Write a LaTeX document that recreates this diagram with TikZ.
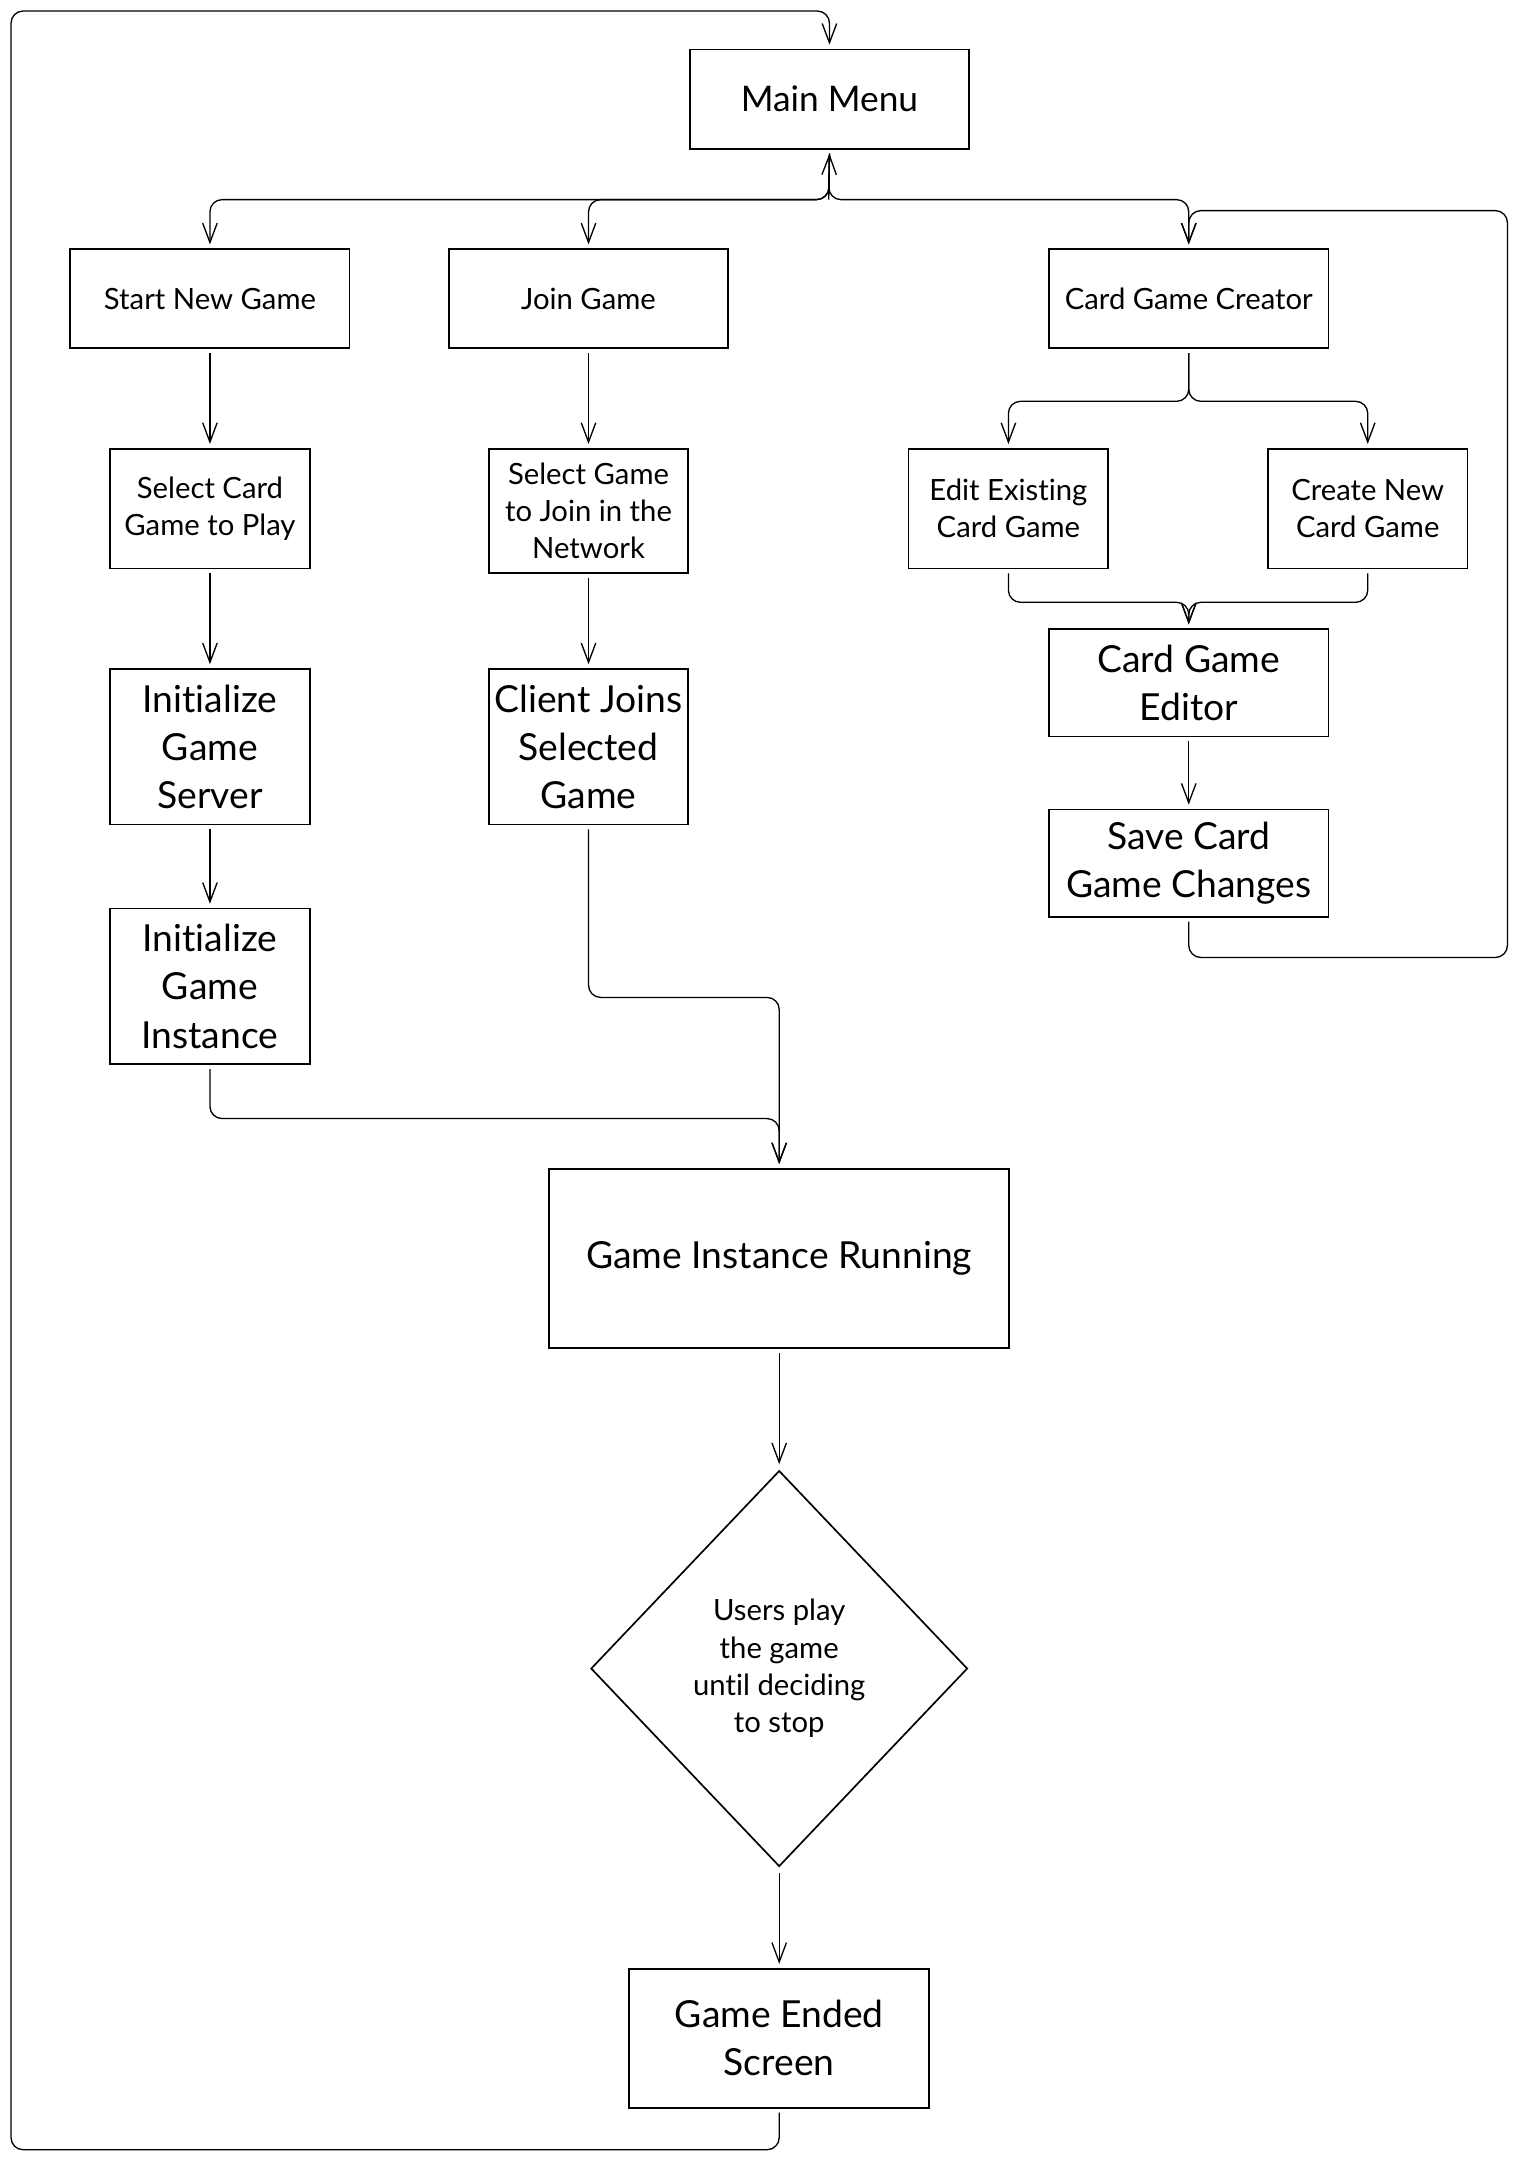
\documentclass[tikz,border=0pt]{standalone}
\usepackage{fontspec}
\setmainfont{Lato}[Ligatures=NoCommon]
\usetikzlibrary{arrows.meta,shapes.geometric}

\begin{document}
\begin{tikzpicture}[x=0.02cm, y=-0.02cm,
		box/.style={draw, line width=0.7pt, align=center, inner sep=2pt, outer sep=2pt},
		small/.style={font=\fontsize{12.1}{15.4}\selectfont},
		big/.style={font=\fontsize{15.4}{19.9}\selectfont},
		flow/.style={-{Straight Barb[length=8pt,width=6pt]}, line width=0.55pt, rounded corners=5pt}]
	\useasboundingbox (0,0) rectangle (1104,1569);
	% menu and the three choices
	\node[box, font=\fontsize{14.6}{18}\selectfont, minimum width=4.06cm, minimum height=1.44cm] (menu) at (602.5,72) {Main Menu};
	\node[box, small, minimum width=4.06cm, minimum height=1.44cm] (start) at (152.5,217) {Start New Game};
	\node[box, small, minimum width=4.06cm, minimum height=1.44cm] (join) at (427.5,217) {Join Game};
	\node[box, small, minimum width=4.06cm, minimum height=1.44cm] (creator) at (863.5,217) {Card Game Creator};
	% left column
	\node[box, small, minimum width=2.9cm, minimum height=1.74cm] (selcard) at (152.5,369.5) {Select Card\\Game to Play};
	\node[box, big, minimum width=2.9cm, minimum height=2.26cm] (server) at (152.5,542.5) {Initialize\\Game\\Server};
	\node[box, big, minimum width=2.9cm, minimum height=2.26cm] (instance) at (152.5,716.5) {Initialize\\Game\\Instance};
	% middle column
	\node[box, small, minimum width=2.9cm, minimum height=1.8cm] (seljoin) at (427.5,371) {Select Game\\to Join in the\\Network};
	\node[box, big, minimum width=2.9cm, minimum height=2.26cm] (client) at (427.5,542.5) {Client Joins\\Selected\\Game};
	% editor column
	\node[box, small, minimum width=2.9cm, minimum height=1.74cm] (edit) at (732.5,369.5) {Edit Existing\\Card Game};
	\node[box, small, minimum width=2.9cm, minimum height=1.74cm] (create) at (993.5,369.5) {Create New\\Card Game};
	\node[box, big, minimum width=4.06cm, minimum height=1.56cm] (editor) at (863.5,496) {Card Game\\Editor};
	\node[box, big, minimum width=4.06cm, minimum height=1.56cm] (save) at (863.5,627) {Save Card\\Game Changes};
	% running game
	\node[box, big, minimum width=6.68cm, minimum height=2.6cm] (running) at (566,914) {Game Instance Running};
	\node[box, small, diamond, inner sep=0pt, minimum width=5.52cm, minimum height=5.8cm] (play) at (566,1212) {Users play\\the game\\until deciding\\to stop};
	\node[box, big, minimum width=4.36cm, minimum height=2.02cm] (ended) at (566,1480.5) {Game Ended\\Screen};

	\coordinate (split) at (602,145);
	\coordinate (backcorner) at (1095,153);
	\coordinate (outercorner) at (8,8);

	\draw[flow] (menu.south) -- (split) -| (start.north);
	\draw[flow] (menu.south) -- (split) -| (join.north);
	\draw[flow] (menu.south) -- (split) -| (creator.north);
	\draw[flow] (split) -- (menu.south);

	\draw[flow] (start) -- (selcard);
	\draw[flow] (selcard) -- (server);
	\draw[flow] (server) -- (instance);
	\draw[flow] (instance.south) -- ++(0,36) -| (running.north);

	\draw[flow] (join) -- (seljoin);
	\draw[flow] (seljoin) -- (client);
	\draw[flow] (client.south) -- ++(0,122) -| (running.north);

	\draw[flow] (creator.south) -- ++(0,35) -| (edit.north);
	\draw[flow] (creator.south) -- ++(0,35) -| (create.north);
	\draw[flow] (edit.south) -- ++(0,21) -| (editor.north);
	\draw[flow] (create.south) -- ++(0,21) -| (editor.north);
	\draw[flow] (editor) -- (save);
	\draw[flow] (save.south) -- ++(0,26) -| (backcorner) -| (creator.north);

	\draw[flow] (running) -- (play);
	\draw[flow] (play) -- (ended);
	\draw[flow] (ended.south) -- ++(0,27) -| (outercorner) -| (menu.north);
\end{tikzpicture}
\end{document}
